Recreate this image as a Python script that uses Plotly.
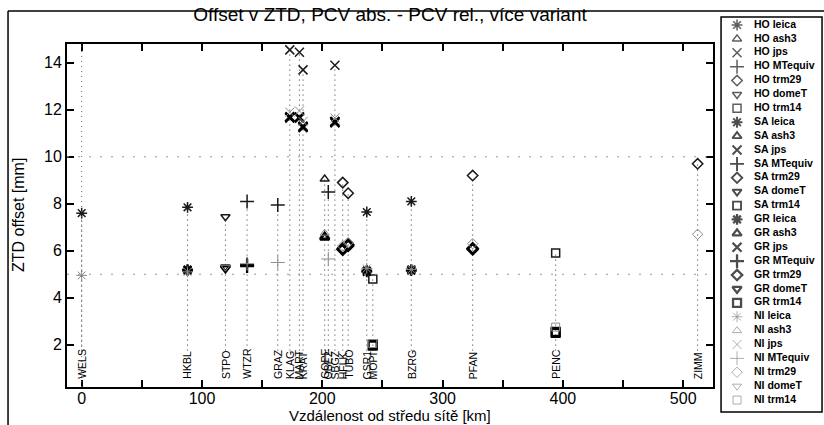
import plotly.graph_objects as go

# ---------------- data ----------------
stations = ["WELS", "HKBL", "STPO", "WTZR", "GRAZ", "KLAG", "MART", "KRAT", "GOPE", "OBE2",
            "SBGZ", "HFLK", "TUBO", "GSR1", "MOPI", "BZRG", "PFAN", "PENC", "ZIMM"]
distance_km = [0, 88, 119.5, 137.5, 163, 173, 181, 184, 202, 205,
               210.5, 217, 221.5, 237, 242, 274, 325, 394, 512]
antenna = ["leica", "leica", "domeT", "MTequiv", "MTequiv", "jps", "jps", "jps", "ash3", "MTequiv",
           "jps", "trm29", "trm29", "leica", "trm14", "leica", "trm29", "trm14", "trm29"]

HO = [7.6, 7.85, 7.45, 8.1, 7.95, 14.55, 14.45, 13.7, 9.05, 8.5,
      13.9, 8.9, 8.45, 7.65, 4.8, 8.1, 9.2, 5.9, 9.7]
SA = [None, 5.15, 5.3, 5.4, None, 11.65, 11.7, 11.3, 6.55, None,
      11.45, 6.1, 6.2, 5.1, 1.95, 5.15, 6.05, 2.5, None]
GR = [None, 5.2, 5.25, 5.35, None, 11.7, 11.65, 11.25, 6.6, None,
      11.5, 6.05, 6.25, 5.15, 2.0, 5.2, 6.1, 2.55, None]
NI = [4.95, 5.1, 5.3, 5.45, 5.5, 11.9, 11.95, 11.5, 6.75, 5.65,
      11.65, 6.2, 6.35, 5.25, 2.05, 5.2, 6.3, 2.75, 6.7]

groups = ["HO", "SA", "GR", "NI"]
group_values = {"HO": HO, "SA": SA, "GR": GR, "NI": NI}
antenna_types = ["leica", "ash3", "jps", "MTequiv", "trm29", "domeT", "trm14"]

x_tickvals = [0, 50, 100, 150, 200, 250, 300, 350, 400, 450, 500]
x_ticktext = ["0", "", "100", "", "200", "", "300", "", "400", "", "500"]
y_tickvals = [2, 4, 6, 8, 10, 12, 14]

# ---------------- styles ----------------
FONT = "Liberation Sans, Arial, sans-serif"
symbols = {"leica": "asterisk-open", "ash3": "triangle-up-open", "jps": "x-thin-open",
           "MTequiv": "cross-thin-open", "trm29": "diamond-open", "domeT": "triangle-down-open",
           "trm14": "square-open"}
sizes = {"leica": 9, "ash3": 8, "jps": 9, "MTequiv": 10, "trm29": 8, "domeT": 8, "trm14": 8}
gstyle = {"HO": ("#1a1a1a", 1.5), "SA": ("#000000", 1.9), "GR": ("#000000", 2.3), "NI": ("#8c8c8c", 1.0)}

fig = go.Figure()

# vertical dotted station lines
lx, ly = [], []
for i, d in enumerate(distance_km):
    vals = [group_values[g][i] for g in groups if group_values[g][i] is not None]
    lx += [d, d, None]
    ly += [1.75, max(vals), None]
fig.add_trace(go.Scatter(x=lx, y=ly, mode="lines", line=dict(color="#333", width=1, dash="1px,4px"),
                         hoverinfo="skip", showlegend=False))

# data markers
for g in groups:
    col, w = gstyle[g]
    for a in antenna_types:
        xs = [distance_km[i] for i in range(len(stations)) if antenna[i] == a and group_values[g][i] is not None]
        ys = [group_values[g][i] for i in range(len(stations)) if antenna[i] == a and group_values[g][i] is not None]
        if not xs:
            continue
        fig.add_trace(go.Scatter(x=xs, y=ys, mode="markers", name=f"{g} {a}", showlegend=False,
                                 marker=dict(symbol=symbols[a], size=sizes[a], color=col,
                                             line=dict(color=col, width=w))))

# custom legend (separate axis)
rows = list(range(len(groups) * len(antenna_types)))
for gi, g in enumerate(groups):
    col, w = gstyle[g]
    fig.add_trace(go.Scatter(
        x=[16] * len(antenna_types), y=rows[gi * 7:(gi + 1) * 7], xaxis="x2", yaxis="y2",
        mode="markers", showlegend=False, hoverinfo="skip",
        marker=dict(symbol=[symbols[a] for a in antenna_types], size=[sizes[a] for a in antenna_types],
                    color=col, line=dict(color=col, width=w))))
fig.add_trace(go.Scatter(
    x=[33] * len(rows), y=rows, xaxis="x2", yaxis="y2", mode="text",
    text=[f"{g} {a}" for g in groups for a in antenna_types], textposition="middle right",
    textfont=dict(family=FONT, size=10.5, color="black", weight="bold"),
    showlegend=False, hoverinfo="skip"))

axis_common = dict(showline=True, linewidth=2, linecolor="black", mirror="ticks", ticks="inside",
                   ticklen=7, tickwidth=1.5, tickcolor="black", showgrid=False, zeroline=False,
                   tickfont=dict(family=FONT, size=16, color="black"))

fig.update_layout(
    width=824, height=425, margin=dict(l=67, r=0, t=17, b=13),
    plot_bgcolor="white", paper_bgcolor="white",
    title=dict(text="Offset v ZTD, PCV abs. - PCV rel., více variant", xref="container", x=390 / 824,
               xanchor="center", yref="container", y=1 - 14 / 425, yanchor="middle",
               font=dict(family=FONT, size=19, color="black")),
    xaxis=dict(domain=[0, 0.8534], range=[-12.2, 524.8], tickvals=x_tickvals, ticktext=x_ticktext,
               anchor="y", ticklabelstandoff=-4, **axis_common),
    yaxis=dict(domain=[0.0633, 0.9316], range=[0.2, 14.8], tickvals=y_tickvals, anchor="x", **axis_common),
    xaxis2=dict(domain=[0.864, 1.0], range=[0, 103], visible=False, anchor="y2"),
    yaxis2=dict(domain=[0, 1], range=[27.86, -0.576], visible=False, anchor="x2"),
    showlegend=False,
    shapes=[
        # reference dotted lines
        dict(type="line", xref="paper", x0=0, x1=0.8534, yref="y", y0=5, y1=5,
             line=dict(color="#999", width=1, dash="2px,9px")),
        dict(type="line", xref="paper", x0=0, x1=0.8534, yref="y", y0=10, y1=10,
             line=dict(color="#999", width=1, dash="2px,9px")),
        dict(type="line", xref="x", x0=0, x1=0, yref="y", y0=0.2, y1=14.8,
             line=dict(color="#666", width=1, dash="1px,4px")),
        # legend box
        dict(type="rect", xref="paper", yref="paper", x0=0.864, x1=0.9974, y0=0, y1=1,
             line=dict(color="black", width=1.5), fillcolor="rgba(0,0,0,0)"),
        # outer frame
        dict(type="line", xref="paper", yref="paper", x0=-0.0779, x1=1.02, y0=1.0152, y1=1.0152,
             line=dict(color="black", width=1.5)),
        dict(type="line", xref="paper", yref="paper", x0=-0.0779, x1=-0.0779, y0=-0.04, y1=1.0152,
             line=dict(color="black", width=1.5)),
    ],
)

# station labels
for s, d in zip(stations, distance_km):
    fig.add_annotation(x=d, y=0.45, xref="x", yref="y", text=s, textangle=-90, showarrow=False,
                       xanchor="center", yanchor="bottom", font=dict(family=FONT, size=10.5, color="black"))

# axis titles
fig.add_annotation(text="Vzdálenost od středu sítě [km]", xref="paper", yref="paper", x=(390 - 67) / 757,
                   y=(412 - 415) / 395, xanchor="center", yanchor="middle", showarrow=False,
                   font=dict(family=FONT, size=15, color="black"))
fig.add_annotation(text="ZTD offset [mm]", xref="paper", yref="paper", x=(18 - 67) / 757, y=(412 - 215) / 395,
                   xanchor="center", yanchor="middle", textangle=-90, showarrow=False,
                   font=dict(family=FONT, size=16, color="black"))

fig.write_html("out.html")
